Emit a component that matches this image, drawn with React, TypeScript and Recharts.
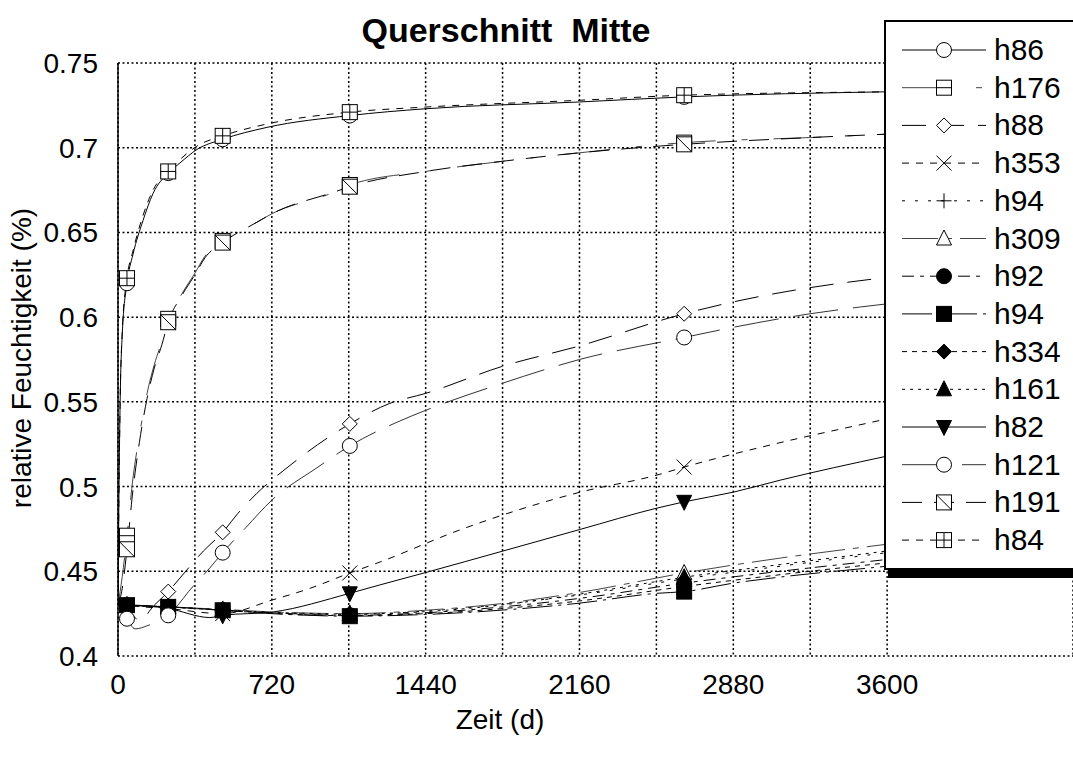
import React from 'react';
import { LineChart, Line, XAxis, YAxis, CartesianGrid } from 'recharts';

type Pt = [number, number];

const markerDays = [42, 235, 490, 1085, 2650];
const xTicks = [0, 360, 720, 1080, 1440, 1800, 2160, 2520, 2880, 3240, 3600];
const xLabelTicks = [0, 720, 1440, 2160, 2880, 3600];
const yTicks = [0.4, 0.45, 0.5, 0.55, 0.6, 0.65, 0.7, 0.75];

const h86: Pt[] = [[0, 0.43], [4, 0.49], [10, 0.55], [20, 0.59], [42, 0.62], [70, 0.637], [117, 0.657], [164, 0.673], [235, 0.685], [290, 0.691], [370, 0.699], [490, 0.705], [697, 0.712], [1085, 0.719], [1440, 0.723], [2160, 0.727], [2650, 0.73], [3600, 0.733], [4470, 0.734]];
const h176: Pt[] = [[0, 0.43], [20, 0.447], [42, 0.471], [70, 0.505], [100, 0.53], [136, 0.555], [170, 0.572], [206, 0.586], [235, 0.599], [300, 0.614], [360, 0.626], [407, 0.636], [490, 0.645], [650, 0.656], [720, 0.661], [1016, 0.674], [1085, 0.678], [1440, 0.686], [1800, 0.692], [2160, 0.697], [2650, 0.703], [3240, 0.706], [3600, 0.708], [4470, 0.712]];
const h88: Pt[] = [[0, 0.43], [42, 0.428], [100, 0.421], [170, 0.43], [235, 0.438], [290, 0.446], [400, 0.462], [490, 0.473], [560, 0.484], [650, 0.496], [800, 0.512], [1085, 0.537], [1270, 0.549], [1440, 0.555], [1800, 0.571], [2160, 0.583], [2650, 0.602], [2880, 0.609], [3170, 0.616], [3570, 0.623], [4000, 0.628], [4470, 0.633]];
const h353: Pt[] = [[0, 0.431], [42, 0.43], [235, 0.428], [490, 0.425], [720, 0.433], [900, 0.44], [1085, 0.449], [1227, 0.4555], [1600, 0.4744], [2163, 0.4967], [2523, 0.5068], [2650, 0.5115], [3052, 0.5245], [3600, 0.54], [4470, 0.565]];
const h94a: Pt[] = [[0, 0.432], [42, 0.43], [235, 0.429], [490, 0.427], [720, 0.4255], [1085, 0.4245], [1440, 0.4265], [1800, 0.4305], [2160, 0.436], [2650, 0.4455], [3100, 0.453], [3600, 0.461], [4470, 0.475]];
const h309: Pt[] = [[0, 0.431], [42, 0.43], [235, 0.429], [490, 0.4275], [720, 0.426], [1085, 0.425], [1440, 0.427], [1800, 0.431], [2160, 0.4375], [2650, 0.449], [3100, 0.4578], [3600, 0.466], [4470, 0.48]];
const h92: Pt[] = [[0, 0.431], [42, 0.43], [235, 0.429], [490, 0.427], [720, 0.4255], [1085, 0.424], [1440, 0.4255], [1800, 0.429], [2160, 0.434], [2650, 0.443], [3100, 0.45], [3600, 0.457], [4470, 0.47]];
const h94b: Pt[] = [[0, 0.43], [42, 0.43], [235, 0.429], [490, 0.427], [720, 0.425], [1085, 0.4235], [1440, 0.4245], [1800, 0.4271], [2160, 0.4312], [2523, 0.437], [2650, 0.438], [2880, 0.443], [3100, 0.4466], [3600, 0.453], [4470, 0.465]];
const h334: Pt[] = [[0, 0.43], [42, 0.43], [235, 0.429], [490, 0.427], [720, 0.4252], [1085, 0.4238], [1440, 0.425], [1800, 0.428], [2160, 0.4325], [2650, 0.441], [3100, 0.448], [3600, 0.455], [4470, 0.467]];
const h161: Pt[] = [[0, 0.431], [42, 0.43], [235, 0.429], [490, 0.4272], [720, 0.4258], [1085, 0.4248], [1440, 0.4262], [1800, 0.4302], [2160, 0.4365], [2650, 0.4465], [3100, 0.454], [3600, 0.462], [4470, 0.476]];
const h82: Pt[] = [[0, 0.43], [42, 0.43], [235, 0.428], [430, 0.4227], [490, 0.424], [726, 0.426], [1085, 0.437], [1227, 0.442], [1447, 0.4495], [1803, 0.462], [2163, 0.4747], [2523, 0.4873], [2650, 0.491], [2880, 0.4967], [3100, 0.5038], [3600, 0.518], [4470, 0.54]];
const h121: Pt[] = [[0, 0.43], [42, 0.422], [80, 0.416], [140, 0.418], [235, 0.424], [280, 0.43], [330, 0.438], [430, 0.452], [490, 0.461], [600, 0.476], [720, 0.492], [930, 0.511], [1085, 0.524], [1306, 0.538], [1440, 0.545], [1800, 0.561], [2160, 0.575], [2650, 0.588], [2880, 0.594], [3240, 0.602], [3475, 0.606], [4000, 0.613], [4470, 0.618]];
const h191: Pt[] = [[0, 0.43], [20, 0.44], [42, 0.463], [70, 0.498], [100, 0.526], [136, 0.552], [170, 0.57], [206, 0.584], [235, 0.597], [300, 0.613], [360, 0.625], [407, 0.635], [490, 0.644], [650, 0.656], [720, 0.661], [1016, 0.674], [1085, 0.677], [1440, 0.686], [1800, 0.692], [2160, 0.697], [2650, 0.702], [3240, 0.706], [3600, 0.708], [4470, 0.712]];
const h84: Pt[] = [[0, 0.43], [4, 0.49], [10, 0.55], [20, 0.592], [42, 0.623], [70, 0.639], [117, 0.66], [164, 0.675], [235, 0.686], [290, 0.693], [370, 0.701], [490, 0.707], [697, 0.714], [1085, 0.721], [1440, 0.724], [2160, 0.728], [2650, 0.731], [3600, 0.733], [4470, 0.734]];

type MarkerKind = 'circle' | 'squareH' | 'diamond' | 'cross' | 'plus' | 'triangle' | 'dot' | 'squareF' | 'diamondF' | 'triangleF' | 'triangleDownF' | 'squareD' | 'squareX';

interface SeriesDef { name: string; data: Pt[]; dash?: string; color: string; marker: MarkerKind; }

const series: SeriesDef[] = [
  { name: 'h86', data: h86, color: '#000', marker: 'circle' },
  { name: 'h176', data: h176, dash: '48 26 6 26', color: '#444', marker: 'squareH' },
  { name: 'h88', data: h88, dash: '24 14', color: '#000', marker: 'diamond' },
  { name: 'h353', data: h353, dash: '7 7', color: '#000', marker: 'cross' },
  { name: 'h94', data: h94a, dash: '3 10', color: '#000', marker: 'plus' },
  { name: 'h309', data: h309, dash: '36 8 6 8', color: '#444', marker: 'triangle' },
  { name: 'h92', data: h92, dash: '12 6 4 6', color: '#000', marker: 'dot' },
  { name: 'h94', data: h94b, dash: '30 6 3 6', color: '#000', marker: 'squareF' },
  { name: 'h334', data: h334, dash: '5 5', color: '#000', marker: 'diamondF' },
  { name: 'h161', data: h161, dash: '3 5', color: '#000', marker: 'triangleF' },
  { name: 'h82', data: h82, color: '#000', marker: 'triangleDownF' },
  { name: 'h121', data: h121, dash: '45 15', color: '#333', marker: 'circle' },
  { name: 'h191', data: h191, dash: '20 12', color: '#000', marker: 'squareD' },
  { name: 'h84', data: h84, dash: '7 7', color: '#000', marker: 'squareX' },
];

const FONT = '"Liberation Sans", Arial, Helvetica, sans-serif';

function MarkerShape({ kind, cx, cy }: { kind: MarkerKind; cx: number; cy: number }) {
  const s = 7.5;
  const st = { stroke: '#000', strokeWidth: 1 };
  switch (kind) {
    case 'circle':
      return <circle cx={cx} cy={cy} r={s} fill="#fff" {...st} />;
    case 'dot':
      return <circle cx={cx} cy={cy} r={s} fill="#000" {...st} />;
    case 'squareH':
      return (
        <g>
          <rect x={cx - s} y={cy - s} width={2 * s} height={2 * s} fill="#fff" {...st} />
          <line x1={cx - s} x2={cx + s} y1={cy} y2={cy} {...st} />
        </g>
      );
    case 'squareX':
      return (
        <g>
          <rect x={cx - s} y={cy - s} width={2 * s} height={2 * s} fill="#fff" {...st} />
          <line x1={cx - s} x2={cx + s} y1={cy} y2={cy} {...st} />
          <line x1={cx} x2={cx} y1={cy - s} y2={cy + s} {...st} />
        </g>
      );
    case 'squareD':
      return (
        <g>
          <rect x={cx - s} y={cy - s} width={2 * s} height={2 * s} fill="#fff" {...st} />
          <line x1={cx - s} x2={cx + s} y1={cy - s} y2={cy + s} {...st} />
        </g>
      );
    case 'squareF':
      return <rect x={cx - s} y={cy - s} width={2 * s} height={2 * s} fill="#000" {...st} />;
    case 'diamond':
      return <polygon points={`${cx},${cy - s} ${cx + s},${cy} ${cx},${cy + s} ${cx - s},${cy}`} fill="#fff" {...st} />;
    case 'diamondF':
      return <polygon points={`${cx},${cy - s} ${cx + s},${cy} ${cx},${cy + s} ${cx - s},${cy}`} fill="#000" {...st} />;
    case 'cross':
      return (
        <g>
          <line x1={cx - s} x2={cx + s} y1={cy - s} y2={cy + s} {...st} />
          <line x1={cx - s} x2={cx + s} y1={cy + s} y2={cy - s} {...st} />
        </g>
      );
    case 'plus':
      return (
        <g>
          <line x1={cx - s} x2={cx + s} y1={cy} y2={cy} {...st} />
          <line x1={cx} x2={cx} y1={cy - s} y2={cy + s} {...st} />
        </g>
      );
    case 'triangle':
      return <polygon points={`${cx},${cy - s - 1} ${cx + s},${cy + s - 1} ${cx - s},${cy + s - 1}`} fill="#fff" {...st} />;
    case 'triangleF':
      return <polygon points={`${cx},${cy - s - 1} ${cx + s},${cy + s - 1} ${cx - s},${cy + s - 1}`} fill="#000" {...st} />;
    case 'triangleDownF':
      return <polygon points={`${cx - s},${cy - s + 1} ${cx + s},${cy - s + 1} ${cx},${cy + s + 1}`} fill="#000" {...st} />;
    default:
      return <g />;
  }
}

const fmtY = (v: number) => String(Number(v.toFixed(2)));
const fmtX = (v: number) => (xLabelTicks.includes(v) ? String(v) : '');

function LegendBox() {
  const rowH = 37.7;
  return (
    <div
      style={{
        position: 'absolute',
        left: 884,
        top: 20,
        width: 200,
        height: 546,
        border: '2px solid #000',
        background: '#fff',
        boxShadow: '4px 8px 0 0 #000',
      }}
    >
      <svg width={200} height={546} style={{ display: 'block' }}>
        {series.map((s, i) => {
          const y = 28 + i * rowH;
          return (
            <g key={i}>
              <line x1={16} x2={100} y1={y} y2={y} stroke={s.color} strokeWidth={1} strokeDasharray={s.dash} />
              <MarkerShape kind={s.marker} cx={58} cy={y} />
              <text x={108} y={y + 10} fontSize={30} fontFamily={FONT} fill="#000">
                {s.name}
              </text>
            </g>
          );
        })}
      </svg>
    </div>
  );
}

export default function App() {
  return (
    <div
      style={{
        position: 'absolute',
        left: 0,
        top: 0,
        width: 1073,
        height: 760,
        overflow: 'hidden',
        background: '#fff',
        fontFamily: FONT,
      }}
    >
      <LineChart width={1073} height={760} margin={{ top: 63, right: 0, left: 0, bottom: 64 }}>
        <CartesianGrid stroke="#000" strokeDasharray="2 2.5" strokeWidth={1.5} />
        <XAxis
          type="number"
          dataKey="d"
          domain={[0, 4470]}
          allowDataOverflow
          ticks={xTicks}
          tickFormatter={fmtX}
          tickLine={false}
          axisLine={false}
          tickMargin={12}
          height={40}
          tick={{ fontSize: 28, fill: '#000', fontFamily: FONT }}
          interval={0}
        />
        <YAxis
          type="number"
          domain={[0.4, 0.75]}
          allowDataOverflow
          ticks={yTicks}
          tickFormatter={fmtY}
          tickLine={false}
          axisLine={{ stroke: '#000', strokeWidth: 1.5 }}
          tickSize={0}
          tickMargin={20}
          width={118}
          tick={{ fontSize: 28, fill: '#000', fontFamily: FONT }}
          interval={0}
        />
        {series.map((s, i) => (
          <Line
            key={i}
            data={s.data.map(([d, v]) => ({ d, v }))}
            dataKey="v"
            type="monotone"
            stroke={s.color}
            strokeWidth={1}
            strokeDasharray={s.dash}
            isAnimationActive={false}
            legendType="none"
            dot={(p: any) =>
              markerDays.includes(p.payload.d) ? (
                <MarkerShape key={`${i}-${p.index}`} kind={s.marker} cx={p.cx} cy={p.cy} />
              ) : (
                <g key={`${i}-${p.index}`} />
              )
            }
            activeDot={false}
          />
        ))}
      </LineChart>
      <div
        style={{
          position: 'absolute',
          left: 506,
          top: 30,
          transform: 'translate(-50%, -50%)',
          fontSize: 34,
          fontWeight: 'bold',
          whiteSpace: 'pre',
        }}
      >
        {'Querschnitt  Mitte'}
      </div>
      <div
        style={{
          position: 'absolute',
          left: 500,
          top: 720,
          transform: 'translate(-50%, -50%)',
          fontSize: 28,
          whiteSpace: 'pre',
        }}
      >
        Zeit (d)
      </div>
      <div
        style={{
          position: 'absolute',
          left: 22,
          top: 358,
          transform: 'translate(-50%, -50%) rotate(-90deg)',
          fontSize: 28,
          whiteSpace: 'pre',
        }}
      >
        relative Feuchtigkeit (%)
      </div>
      <LegendBox />
    </div>
  );
}
